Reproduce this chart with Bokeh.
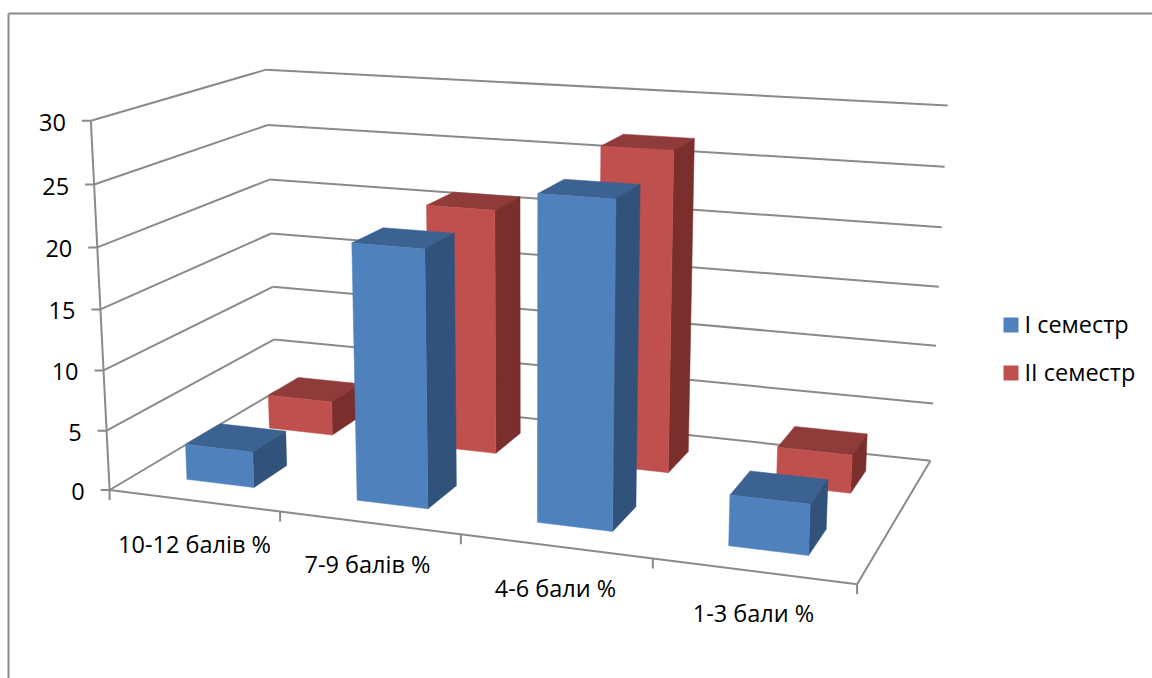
import numpy as np
from bokeh.plotting import figure
from bokeh.models import Range1d, ColumnDataSource
from bokeh.core.properties import value
from bokeh.embed import file_html
from bokeh.resources import INLINE

categories = ["10-12 балів %", "7-9 балів %", "4-6 бали %", "1-3 бали %"]
series_names = ["I семестр", "II семестр"]
semester_1 = [3.0, 20.9, 25.8, 4.0]
semester_2 = [3.0, 21.0, 26.9, 3.2]
y_ticks = [0, 5, 10, 15, 20, 25, 30]

# Camera calibration: where corners of the 3D box land on the page
calib_box = [(0, 0, 0), (0, 0, 30), (0, 1, 30), (1, 1, 30), (0, 1, 0), (1, 1, 0), (1, 0, 0),
             (0, 0, 15), (0, 1, 15), (1, 1, 15)]
calib_px = [(109, 488), (89, 122), (267, 69), (947, 105.5), (276, 394), (929, 459), (857, 585),
            (101, 307.5), (269, 231), (939, 286)]

A = []
for (u, v, h), (x, y) in zip(calib_box, calib_px):
    X = [u, v, h / 30, 1]
    xs_, ys_ = x / 1000, y / 1000
    A.append(X + [0, 0, 0, 0] + [-xs_ * c for c in X])
    A.append([0, 0, 0, 0] + X + [-ys_ * c for c in X])
P = np.linalg.svd(np.array(A))[2][-1].reshape(3, 4)


def proj(u, v, h):
    q = P @ np.array([u, v, h / 30, 1.0])
    return q[0] / q[2] * 1000, q[1] / q[2] * 1000


W, H = 1152, 678
p = figure(width=W, height=H, x_range=Range1d(0, W), y_range=Range1d(H, 0),
           output_backend="svg", toolbar_location=None, min_border=0,
           background_fill_color="white", border_fill_color="white", outline_line_color=None)
p.xaxis.visible = False
p.yaxis.visible = False
p.grid.visible = False

GRID = "#8a8a8a"
segs_x, segs_y = [], []


def seg(a, b):
    segs_x.append([a[0], b[0]])
    segs_y.append([a[1], b[1]])


# chart frame
seg((8, 678), (8, 13))
seg((8, 13), (1152, 13))

for t in y_ticks:
    a, b, c = proj(0, 0, t), proj(0, 1, t), proj(1, 1, t)
    seg(a, b)
    seg(b, c)
    seg((a[0] - 9, a[1]), a)
seg(proj(0, 0, 0), proj(0, 0, 30))
seg(proj(0, 0, 0), proj(1, 0, 0))
seg(proj(1, 0, 0), proj(1, 1, 0))
for i in range(len(categories) + 1):
    a = proj(i / len(categories), 0, 0)
    seg(a, (a[0], a[1] + 10))
p.multi_line(segs_x, segs_y, line_color=GRID, line_width=2)

bar_w = 0.4 / len(categories)
bar_d = 0.4 / len(series_names)
palette = [("#4F81BD", "#3C6291", "#31527B"), ("#C0504D", "#8F3B39", "#7A2F2D")]

fx, fy, fc = [], [], []
for s in [1, 0]:
    vals = [semester_1, semester_2][s]
    v0 = (s + 0.5) / len(series_names) - bar_d / 2
    v1 = v0 + bar_d
    for i, val in enumerate(vals):
        u0 = (i + 0.5) / len(categories) - bar_w / 2
        u1 = u0 + bar_w
        faces = [
            ([(u0, v0, val), (u1, v0, val), (u1, v1, val), (u0, v1, val)], palette[s][1]),
            ([(u1, v0, 0), (u1, v1, 0), (u1, v1, val), (u1, v0, val)], palette[s][2]),
            ([(u0, v0, 0), (u1, v0, 0), (u1, v0, val), (u0, v0, val)], palette[s][0]),
        ]
        for corners, col in faces:
            pts = [proj(*c) for c in corners]
            fx.append([q[0] for q in pts])
            fy.append([q[1] for q in pts])
            fc.append(col)
p.patches("x", "y", fill_color="c", line_color="c", line_width=0.5,
          source=ColumnDataSource(dict(x=fx, y=fy, c=fc)))

FONT = value("Open Sans")
FS = "23.5px"

tx, ty, tt = [], [], []
for t in y_ticks:
    a = proj(0, 0, t)
    tx.append(a[0] - 25)
    ty.append(a[1] + 1.5)
    tt.append(str(t))
p.text(tx, ty, text=tt, text_align="right", text_baseline="middle", text_color="#000000",
       text_font=FONT, text_font_size=FS)

label_x = [194, 367, 555, 753]
label_y = [543, 563, 587, 612]
p.text(label_x, label_y, text=categories, text_align="center", text_baseline="middle",
       text_color="#000000", text_font=FONT, text_font_size=FS)

legend_y = [323, 371]
p.quad(left=[1003, 1003], right=[1018, 1018],
       top=[317, 365], bottom=[332, 380],
       fill_color=[palette[0][0], palette[1][0]], line_color=None)
p.text([1024, 1024], legend_y, text=series_names, text_align="left", text_baseline="middle",
       text_color="#000000", text_font=FONT, text_font_size=FS)

open("out.html", "w").write(file_html(p, INLINE))
